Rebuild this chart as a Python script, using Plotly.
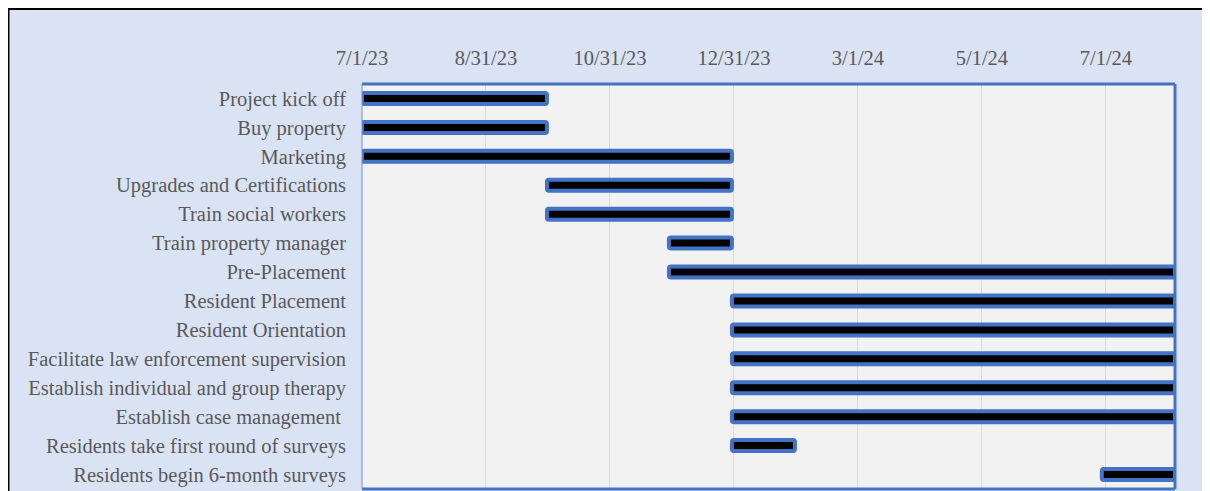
import plotly.graph_objects as go
import pandas as pd

# ---- data ----
tasks = [
    "Project kick off",
    "Buy property",
    "Marketing",
    "Upgrades and Certifications",
    "Train social workers",
    "Train property manager",
    "Pre-Placement",
    "Resident Placement",
    "Resident Orientation",
    "Facilitate law enforcement supervision",
    "Establish individual and group therapy",
    "Establish case management\u00a0",
    "Residents take first round of surveys",
    "Residents begin 6-month surveys",
]
starts = [
    "2023-07-01", "2023-07-01", "2023-07-01", "2023-09-30", "2023-09-30",
    "2023-11-29", "2023-11-29", "2023-12-30", "2023-12-30", "2023-12-30",
    "2023-12-30", "2023-12-30", "2023-12-30", "2024-06-29",
]
ends = [
    "2023-09-30", "2023-09-30", "2023-12-30", "2023-12-30", "2023-12-30",
    "2023-12-30", "2024-08-04", "2024-08-04", "2024-08-04", "2024-08-04",
    "2024-08-04", "2024-08-04", "2024-01-30", "2024-08-04",
]
tick_dates = ["2023-07-01", "2023-08-31", "2023-10-31", "2023-12-31",
              "2024-03-01", "2024-05-01", "2024-07-01"]
tick_labels = ["7/1/23", "8/31/23", "10/31/23", "12/31/23", "3/1/24", "5/1/24", "7/1/24"]
x_range = ["2023-07-01", "2024-08-04"]

# ---- layout constants (figure sits at page offset 8,8) ----
W, H = 1200, 483
L, R, T, B = 354, 33, 76, 2
PW, PH = W - L - R, H - T - B
FONT = "Liberation Serif"
GRAY = "#595959"
BLUE = "#4472C4"


def px(x):
    return (x - L) / PW


def py(y):
    return (H - B - y) / PH


durations = [(pd.Timestamp(e) - pd.Timestamp(s)).total_seconds() * 1000 for s, e in zip(starts, ends)]

fig = go.Figure()
fig.add_trace(go.Bar(
    y=tasks,
    x=durations,
    base=starts,
    orientation="h",
    width=0.38,
    marker=dict(color="black", line=dict(color=BLUE, width=4), cornerradius=2),
    showlegend=False,
    hoverinfo="skip",
))

shapes = [
    # black frame (left / top)
    dict(type="line", xref="paper", yref="paper", x0=px(0.5), x1=px(0.5), y0=py(0), y1=py(H + 2),
         line=dict(color="black", width=2), layer="above"),
    dict(type="line", xref="paper", yref="paper", x0=px(0), x1=px(W + 2), y0=py(1), y1=py(1),
         line=dict(color="black", width=2), layer="above"),
    # plot area border
    dict(type="line", xref="paper", yref="paper", x0=0, x1=1, y0=1, y1=1,
         line=dict(color=BLUE, width=3), layer="above"),
    dict(type="line", xref="paper", yref="paper", x0=1, x1=1, y0=0, y1=1,
         line=dict(color=BLUE, width=3), layer="above"),
    dict(type="line", xref="paper", yref="paper", x0=0, x1=1, y0=0, y1=0,
         line=dict(color=BLUE, width=3), layer="above"),
    dict(type="line", xref="paper", yref="paper", x0=0, x1=0, y0=0, y1=1,
         line=dict(color="#6F8FD0", width=1), layer="above"),
]

fig.update_layout(
    width=W, height=H,
    margin=dict(l=L, r=R, t=T, b=B, autoexpand=False),
    paper_bgcolor="#DAE3F3",
    plot_bgcolor="#F2F2F2",
    shapes=shapes,
    xaxis=dict(
        type="date",
        side="top",
        range=x_range,
        tickvals=tick_dates,
        ticktext=tick_labels,
        showgrid=True,
        gridcolor="#D9D9D9",
        gridwidth=1,
        zeroline=False,
        showline=False,
        ticks="",
        ticklabelstandoff=14,
        tickfont=dict(family=FONT, size=20.5, color=GRAY),
        automargin=False,
    ),
    yaxis=dict(
        type="category",
        categoryorder="array",
        categoryarray=tasks,
        range=[len(tasks) - 0.5, -0.5],
        showgrid=False,
        zeroline=False,
        showline=False,
        ticks="",
        ticklabelstandoff=15,
        tickfont=dict(family=FONT, size=20.5, color=GRAY),
        automargin=False,
    ),
)

fig.write_html("out.html")
